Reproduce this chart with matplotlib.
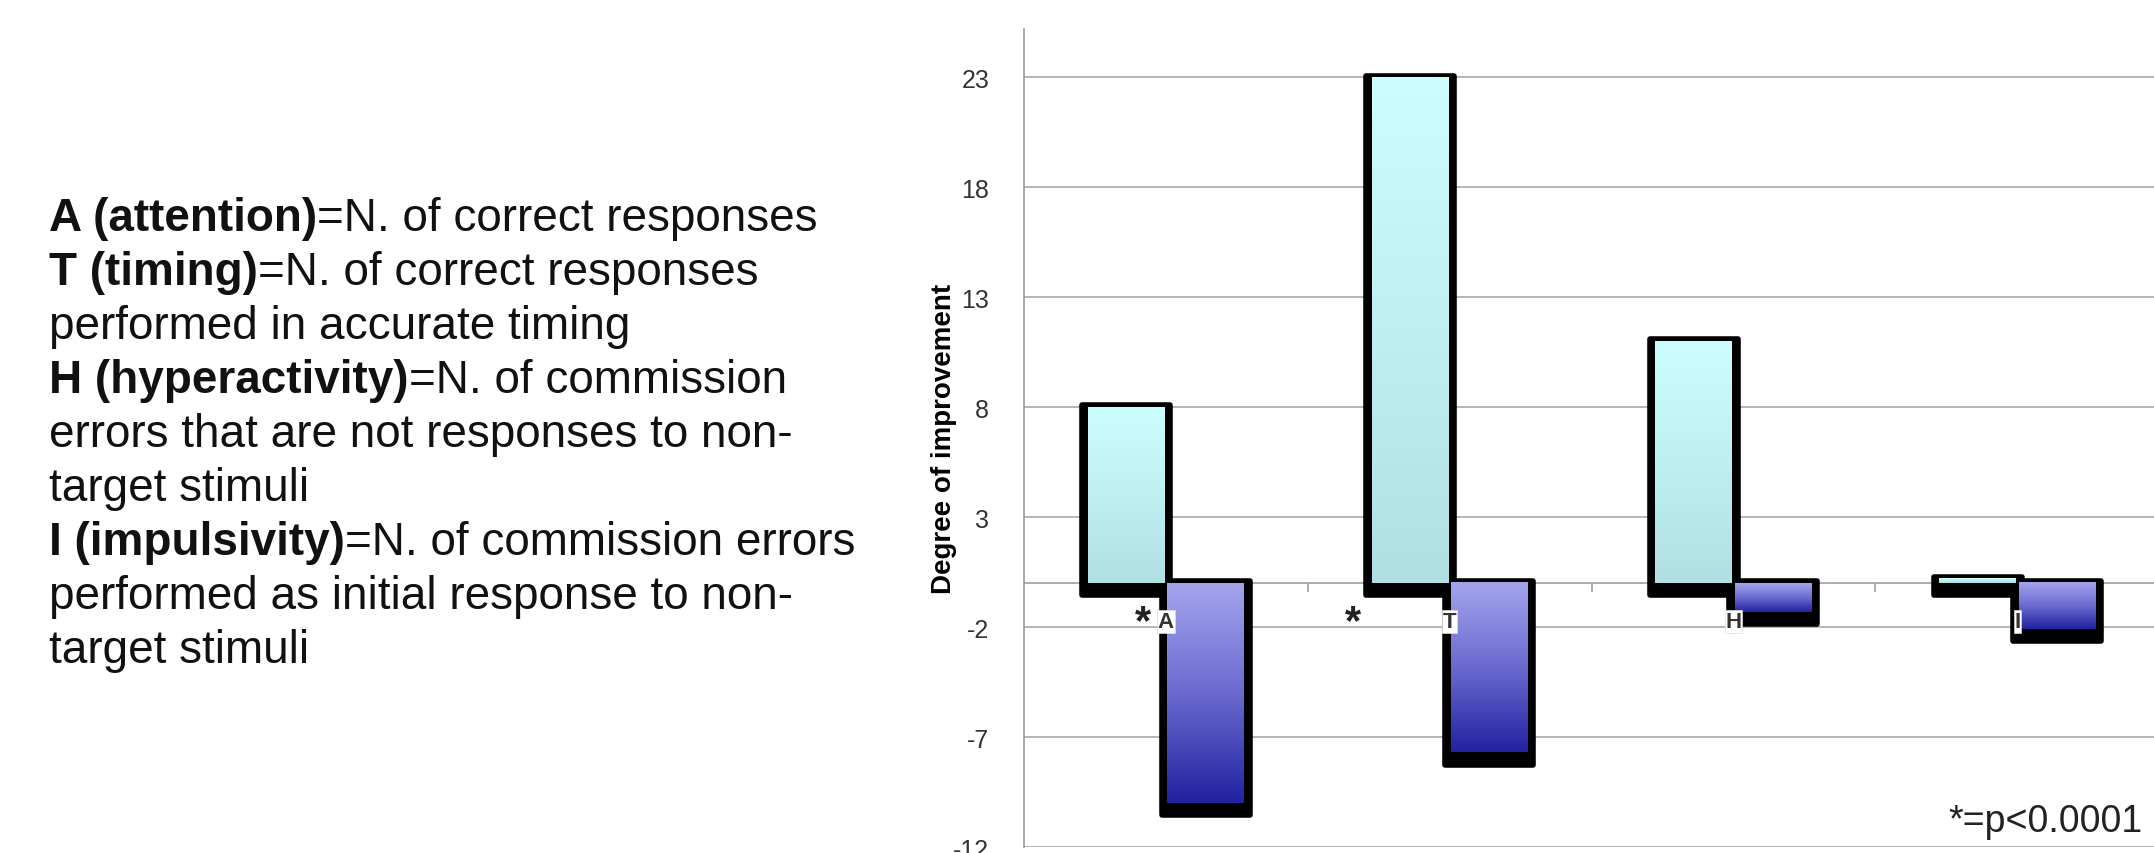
import numpy as np
import matplotlib
matplotlib.use("Agg")
import matplotlib.pyplot as plt
from matplotlib.colors import LinearSegmentedColormap

plt.rcParams["font.family"] = ["Liberation Sans", "DejaVu Sans"]
plt.rcParams["axes.unicode_minus"] = False

# degree of improvement per CPT index
categories = ["A", "T", "H", "I"]
improve_pos = [8.0, 23.0, 11.0, 0.2]
improve_neg = [-10.0, -7.7, -1.3, -2.1]
star_offsets = [-0.08, -0.34, None, None]   # None = not significant
yticks = [23, 18, 13, 8, 3, -2, -7, -12]

legend_lines = [
    ("A (attention)", "=N. of correct responses"),
    ("T (timing)", "=N. of correct responses"),
    ("", "performed in accurate timing"),
    ("H (hyperactivity)", "=N. of commission"),
    ("", "errors that are not responses to non-"),
    ("", "target stimuli"),
    ("I (impulsivity)", "=N. of commission errors"),
    ("", "performed as initial response to non-"),
    ("", "target stimuli"),
]

cyan = LinearSegmentedColormap.from_list("cyan", ["#b0e0e4", "#ccfeff"])
blue = LinearSegmentedColormap.from_list("blue", ["#2222a2", "#6a6ad0", "#a4a4ee"])

fig = plt.figure(figsize=(21.54, 8.54), dpi=100)
ax = fig.add_axes([0.4754, 0.007, 0.527, 0.958])

w = 0.27
grad = np.linspace(0, 1, 256).reshape(-1, 1)


def draw_bar(x, v, cmap, z):
    lo, hi = min(0, v), max(0, v)
    # black drop shadow round the bar
    ax.bar(x, (hi + 0.08) - (lo - 0.55), bottom=lo - 0.55, width=w + 0.04,
           color="black", edgecolor="black", linewidth=4, joinstyle="round",
           zorder=z)
    ax.imshow(grad, extent=[x - w / 2, x + w / 2, lo, hi], origin="lower",
              cmap=cmap, aspect="auto", zorder=z + 0.5)


for i, cat in enumerate(categories):
    draw_bar(i - 0.14, improve_pos[i], cyan, 3 + i)
    draw_bar(i + 0.14, improve_neg[i], blue, 3.2 + i)
    ax.text(i, -1.75, cat, ha="center", va="center", fontsize=16,
            fontweight="bold", color="#333333", zorder=20,
            bbox=dict(facecolor="white", edgecolor="#dddddd", lw=0.5,
                      pad=0.5))
    if star_offsets[i] is not None:
        ax.text(i + star_offsets[i], -1.75, "*", ha="center", va="center",
                fontsize=30, fontweight="bold", color="#222222", zorder=20)

ax.axhline(0, color="#a0a0a0", lw=1.2, zorder=1)
ax.vlines([0.5, 1.5, 2.5], -0.4, 0, color="#a0a0a0", lw=1.2, zorder=1)

ax.set_xlim(-0.5, 3.5)
ax.set_ylim(-12, 25.2)
ax.set_yticks(yticks)
ax.set_xticks([])
ax.yaxis.grid(True, color="#a8a8a8", lw=1.2, zorder=0)
ax.set_axisbelow(True)
ax.tick_params(axis="y", length=0, pad=25, labelsize=18, labelcolor="#333333")
for s in ["top", "right", "bottom"]:
    ax.spines[s].set_visible(False)
ax.spines["left"].set_color("#999999")
ax.spines["left"].set_linewidth(1.2)
ax.set_ylabel("Degree of improvement", fontsize=20, fontweight="bold",
              labelpad=-3)

ax.text(0.985, 0.02, "*=p<0.0001", transform=ax.transAxes, ha="right",
        va="baseline", fontsize=27, color="#222222")

# definitions of the indices, bold key followed by plain text
y0 = 1 - 231 / 854
dy = 54 / 854
for k, (b, r) in enumerate(legend_lines):
    y = y0 - k * dy
    if b:
        tb = fig.text(0.0228, y, b, fontsize=33, fontweight="bold",
                      va="baseline", color="#111111")
        ax.annotate(r, xy=(1, 0), xycoords=tb, va="bottom", ha="left",
                    fontsize=33, color="#111111")
    else:
        fig.text(0.0228, y, r, fontsize=33, va="baseline", color="#111111")

fig.savefig("out.png", dpi=100)
